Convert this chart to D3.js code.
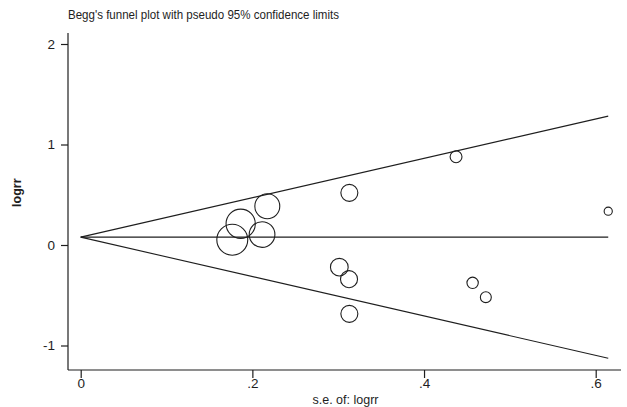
<!DOCTYPE html>
<html>
<head>
<meta charset="utf-8">
<script src="https://cdn.jsdelivr.net/npm/d3@7"></script>
<style>
  html, body { margin: 0; padding: 0; background: #fff; }
  svg { display: block; font-family: "Liberation Sans", Arial, sans-serif; }
</style>
</head>
<body>
<svg id="chart" width="627" height="407"></svg>
<script>
// Study estimates: standard error and log relative risk
const studySE    = [0.1766, 0.1864, 0.2113, 0.2174, 0.3013, 0.3126, 0.3130, 0.3130, 0.4373, 0.4566, 0.4720, 0.6146];
const studyLogRR = [0.052, 0.211, 0.104, 0.386, -0.221, -0.340, 0.519, -0.685, 0.878, -0.376, -0.519, 0.336];

// Pooled (fixed-effect) estimate drawn as the funnel's centre line
const pooledLogRR = 0.078;
const zCrit = 1.96;

const xTicks = [0, 0.2, 0.4, 0.6];
const xTickLabels = ["0", ".2", ".4", ".6"];
const yTicks = [-1, 0, 1, 2];
const yTickLabels = ["-1", "0", "1", "2"];

const titleText = "Begg's funnel plot with pseudo 95% confidence limits";
const xTitle = "s.e. of: logrr";
const yTitle = "logrr";

const svg = d3.select("#chart");
const ink = "#1e1e1e";

const x = d3.scaleLinear().domain([0, 0.6]).range([80.7, 595.7]);
const y = d3.scaleLinear().domain([-1, 2]).range([345.5, 44]);

// plot frame extents
const frameL = 68, frameR = 621, frameT = 33, frameB = 370;

// marker size from inverse-variance weights
const weights = studySE.map(s => 1 / (s * s));
const r = d3.scaleSqrt().domain([0, 1]).range([0, 2.82]);

// axes
const xAxis = d3.axisBottom(x).tickValues(xTicks)
  .tickFormat((d, i) => xTickLabels[i]).tickSize(8).tickSizeOuter(0);
const yAxis = d3.axisLeft(y).tickValues(yTicks)
  .tickFormat((d, i) => yTickLabels[i]).tickSize(7).tickSizeOuter(0);

const gx = svg.append("g").attr("transform", `translate(0,${frameB})`).call(xAxis);
gx.select(".domain").remove();
gx.append("line").attr("x1", frameL).attr("x2", frameR).attr("stroke", ink).attr("stroke-width", 1.2);
gx.selectAll(".tick line").attr("stroke", ink).attr("stroke-width", 1.2);
gx.selectAll(".tick text").attr("fill", ink).attr("font-size", 13.5).attr("dy", "0.85em")
  .attr("y", 7);

const gy = svg.append("g").attr("transform", `translate(${frameL},0)`).call(yAxis);
gy.select(".domain").remove();
gy.append("line").attr("y1", frameT).attr("y2", frameB).attr("stroke", ink).attr("stroke-width", 1.2);
gy.selectAll(".tick line").attr("stroke", ink).attr("stroke-width", 1.2);
gy.selectAll(".tick text").attr("fill", ink).attr("font-size", 13.5).attr("x", -13);

// funnel: centre line and pseudo 95% limits
const seMax = d3.max(studySE);
const line = d3.line().x(d => x(d[0])).y(d => y(d[1]));
const funnel = [
  [[0, pooledLogRR], [seMax, pooledLogRR]],
  [[0, pooledLogRR], [seMax, pooledLogRR + zCrit * seMax]],
  [[0, pooledLogRR], [seMax, pooledLogRR - zCrit * seMax]]
];
svg.append("g").selectAll("path").data(funnel).join("path")
  .attr("d", line).attr("fill", "none").attr("stroke", ink).attr("stroke-width", 1.1);

// studies
svg.append("g").selectAll("circle").data(studySE).join("circle")
  .attr("cx", d => x(d))
  .attr("cy", (d, i) => y(studyLogRR[i]))
  .attr("r", (d, i) => r(weights[i]) - 0.5)
  .attr("fill", "none").attr("stroke", ink).attr("stroke-width", 1.1);

// titles
svg.append("text").attr("x", 68).attr("y", 19).attr("font-size", 13).attr("fill", ink)
  .attr("textLength", 271).attr("lengthAdjust", "spacingAndGlyphs")
  .text(titleText);
svg.append("text").attr("x", (frameL + frameR) / 2 + 1).attr("y", 404).attr("text-anchor", "middle")
  .attr("font-size", 12.5).attr("fill", ink).text(xTitle);
svg.append("text").attr("transform", `translate(21,${y(0.52)}) rotate(-90)`)
  .attr("text-anchor", "middle").attr("font-size", 12.5).attr("font-weight", "bold").attr("fill", ink).text(yTitle);
</script>
</body>
</html>
